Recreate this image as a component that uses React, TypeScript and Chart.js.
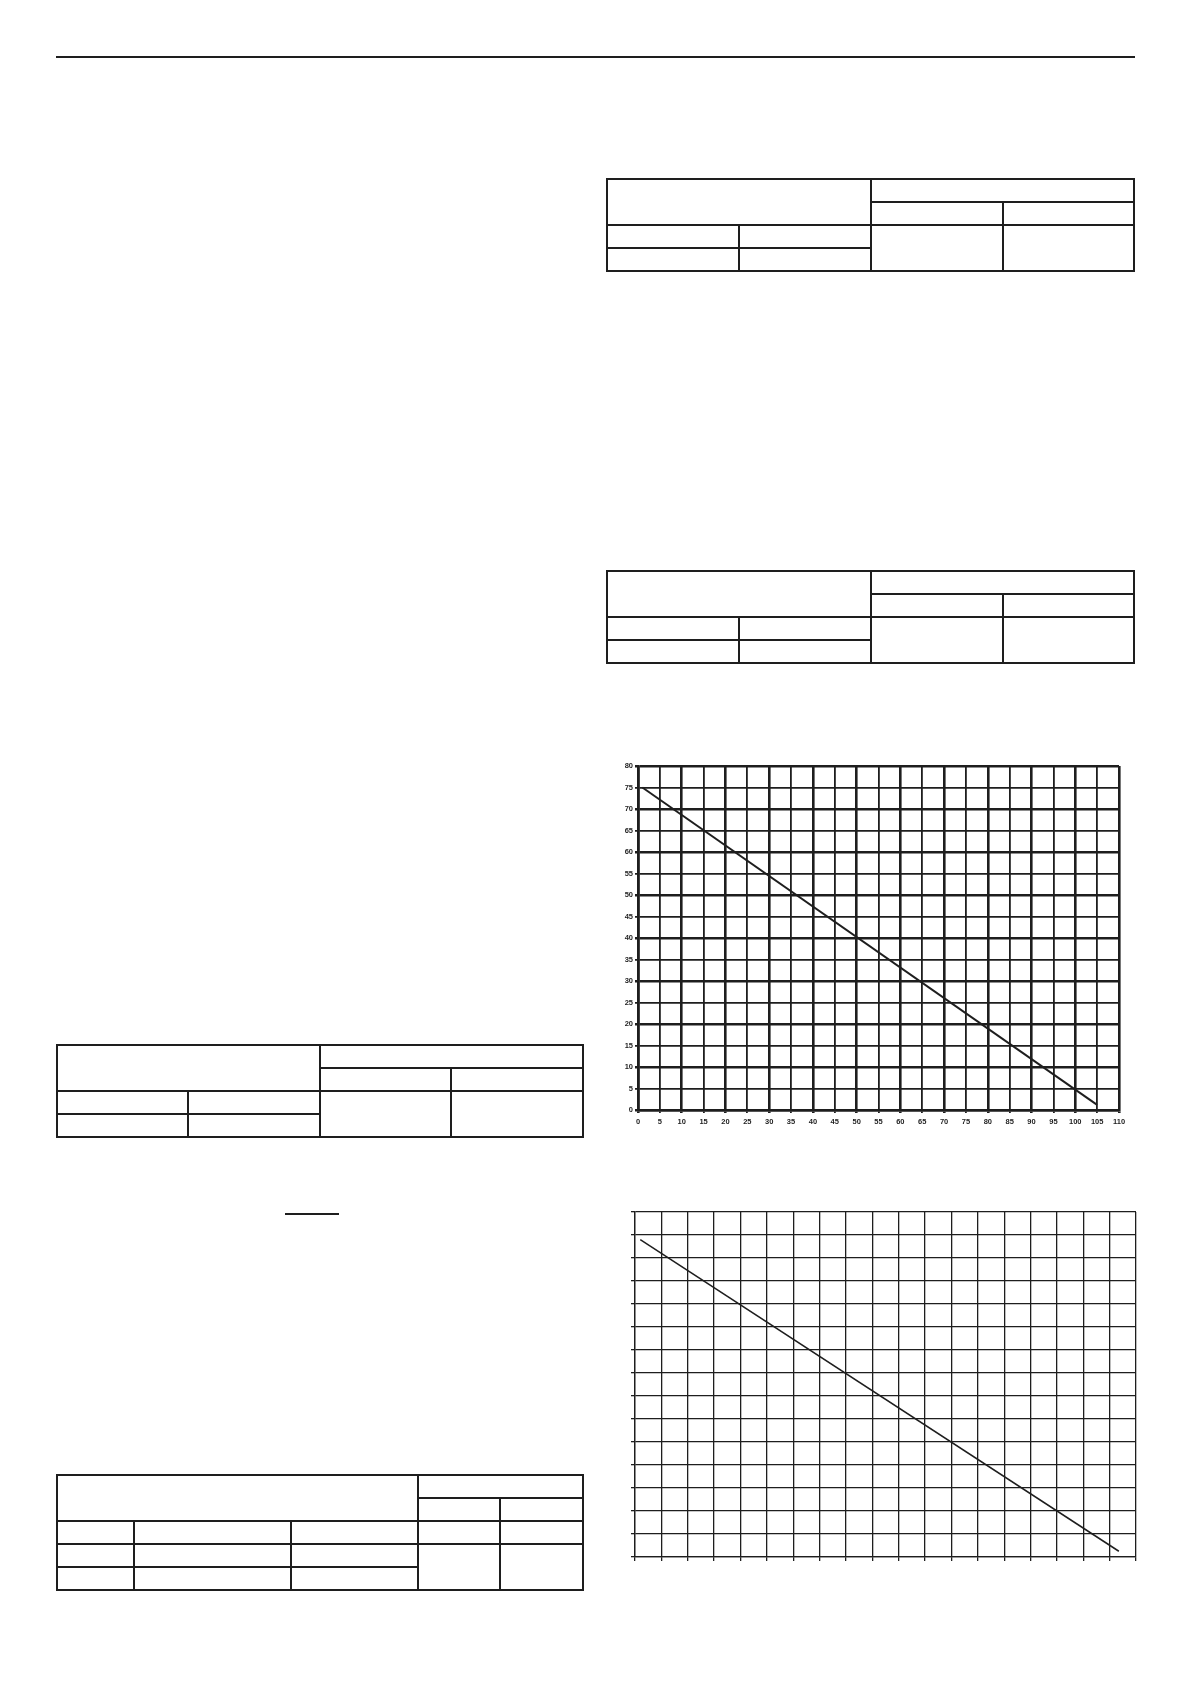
import React, { useEffect, useRef } from "react";
import { Chart, registerables } from "chart.js";

Chart.register(...registerables);

// ---- Chart 1 data (labelled grid) ----
const chart1XMin = 0;
const chart1XMax = 110;
const chart1YMin = 0;
const chart1YMax = 80;
const chart1Step = 5;
const chart1LineX = [1, 105];
const chart1LineY = [75, 1.2];

// ---- Chart 2 data (unlabelled grid) ----
const chart2XMin = 0;
const chart2XMax = 19;
const chart2YMin = 0;
const chart2YMax = 15;
const chart2Step = 1;
const chart2LineX = [0.2, 18.35];
const chart2LineY = [13.8, 0.25];

const INK = "#1e1e1e";

type ChartSpec = {
  left: number;
  top: number;
  width: number;
  height: number;
  xs: number[];
  ys: number[];
  xMin: number;
  xMax: number;
  yMin: number;
  yMax: number;
  step: number;
  labels: boolean;
  yAxisWidth: number;
  xAxisHeight: number;
  padding: { top: number; right: number; bottom: number; left: number };
  majorWidth: number;
  minorWidth: number;
  lineWidth: number;
  tickLength: number;
};

function GridChart(p: ChartSpec) {
  const ref = useRef<HTMLCanvasElement | null>(null);
  useEffect(() => {
    if (!ref.current) return;
    const pts = p.xs.map((x, i) => ({ x, y: p.ys[i] }));
    const gw = (ctx: any) => {
      const v = ctx.tick ? ctx.tick.value : 0;
      return p.labels && Math.round(v) % 10 === 0 ? p.majorWidth : p.minorWidth;
    };
    const font = { family: "'Liberation Sans', Arial, sans-serif", size: 7.5, weight: "bold" as const };
    const chart = new Chart(ref.current, {
      type: "line",
      data: {
        datasets: [
          {
            data: pts,
            borderColor: INK,
            borderWidth: p.lineWidth,
            pointRadius: 0,
            tension: 0,
            fill: false,
          },
        ],
      },
      options: {
        animation: false,
        responsive: false,
        maintainAspectRatio: false,
        layout: { padding: p.padding },
        plugins: { legend: { display: false }, tooltip: { enabled: false } },
        scales: {
          x: {
            type: "linear",
            min: p.xMin,
            max: p.xMax,
            ticks: {
              display: p.labels,
              stepSize: p.step,
              autoSkip: false,
              maxRotation: 0,
              color: INK,
              font,
              padding: 4,
            },
            grid: { color: INK, lineWidth: gw, tickLength: p.tickLength, drawTicks: true },
            border: { color: INK, width: p.labels ? p.majorWidth : p.minorWidth },
            afterFit: (s: any) => {
              s.height = p.xAxisHeight;
            },
          },
          y: {
            type: "linear",
            min: p.yMin,
            max: p.yMax,
            ticks: {
              display: p.labels,
              stepSize: p.step,
              autoSkip: false,
              color: INK,
              font,
              padding: 2,
            },
            grid: { color: INK, lineWidth: gw, tickLength: p.tickLength, drawTicks: true },
            border: { color: INK, width: p.labels ? p.majorWidth : p.minorWidth },
            afterFit: (s: any) => {
              s.width = p.yAxisWidth;
            },
          },
        },
      },
    });
    return () => chart.destroy();
  }, []);
  return (
    <canvas
      ref={ref}
      width={p.width}
      height={p.height}
      style={{ position: "absolute", left: p.left, top: p.top, width: p.width, height: p.height }}
    />
  );
}

// ---- Table line layouts ----
type Seg = [number, number, number];
type TableSpec = { cols: number[]; rows: number[]; h: Seg[]; v: Seg[] };

const tableType1H: Seg[] = [
  [0, 0, 4],
  [1, 2, 4],
  [2, 0, 4],
  [3, 0, 2],
  [4, 0, 4],
];
const tableType1V: Seg[] = [
  [0, 0, 4],
  [1, 2, 4],
  [2, 0, 4],
  [3, 1, 4],
  [4, 0, 4],
];
const tableType2H: Seg[] = [
  [0, 0, 5],
  [1, 3, 5],
  [2, 0, 5],
  [3, 0, 5],
  [4, 0, 3],
  [5, 0, 5],
];
const tableType2V: Seg[] = [
  [0, 0, 5],
  [1, 2, 5],
  [2, 2, 5],
  [3, 0, 5],
  [4, 1, 5],
  [5, 0, 5],
];

const tables: TableSpec[] = [
  { cols: [607, 739, 871, 1003, 1134], rows: [179, 202, 225, 248, 271], h: tableType1H, v: tableType1V },
  { cols: [607, 739, 871, 1003, 1134], rows: [571, 594, 617, 640, 663], h: tableType1H, v: tableType1V },
  { cols: [57, 188, 320, 451, 583], rows: [1045, 1068, 1091, 1114, 1137], h: tableType1H, v: tableType1V },
  { cols: [57, 134, 291, 418, 500, 583], rows: [1475, 1498, 1521, 1544, 1567, 1590], h: tableType2H, v: tableType2V },
];

function Rule({ x1, y1, x2, y2, w }: { x1: number; y1: number; x2: number; y2: number; w: number }) {
  const horiz = y1 === y2;
  return (
    <div
      style={{
        position: "absolute",
        background: INK,
        left: x1 - w / 2,
        top: y1 - w / 2,
        width: horiz ? x2 - x1 + w : w,
        height: horiz ? w : y2 - y1 + w,
      }}
    />
  );
}

function TableLines({ t }: { t: TableSpec }) {
  const w = 1.4;
  return (
    <>
      {t.h.map(([r, c1, c2], i) => (
        <Rule key={"h" + i} x1={t.cols[c1]} y1={t.rows[r]} x2={t.cols[c2]} y2={t.rows[r]} w={w} />
      ))}
      {t.v.map(([c, r1, r2], i) => (
        <Rule key={"v" + i} x1={t.cols[c]} y1={t.rows[r1]} x2={t.cols[c]} y2={t.rows[r2]} w={w} />
      ))}
    </>
  );
}

export default function App() {
  return (
    <div
      style={{
        position: "absolute",
        left: 0,
        top: 0,
        width: 1191,
        height: 1684,
        background: "#ffffff",
        overflow: "hidden",
      }}
    >
      {/* header rule */}
      <Rule x1={57} y1={57} x2={1134} y2={57} w={1.8} />

      {tables.map((t, i) => (
        <TableLines key={i} t={t} />
      ))}

      {/* short underline */}
      <Rule x1={286} y1={1214} x2={338} y2={1214} w={1.5} />

      <GridChart
        left={600}
        top={756}
        width={531}
        height={380}
        xs={chart1LineX}
        ys={chart1LineY}
        xMin={chart1XMin}
        xMax={chart1XMax}
        yMin={chart1YMin}
        yMax={chart1YMax}
        step={chart1Step}
        labels={true}
        yAxisWidth={38}
        xAxisHeight={22}
        padding={{ top: 10, right: 12, bottom: 4, left: 0 }}
        majorWidth={2.6}
        minorWidth={1.8}
        lineWidth={2}
        tickLength={3}
      />

      <GridChart
        left={627}
        top={1208}
        width={513}
        height={357}
        xs={chart2LineX}
        ys={chart2LineY}
        xMin={chart2XMin}
        xMax={chart2XMax}
        yMin={chart2YMin}
        yMax={chart2YMax}
        step={chart2Step}
        labels={false}
        yAxisWidth={8}
        xAxisHeight={8}
        padding={{ top: 4, right: 4, bottom: 0, left: 0 }}
        majorWidth={1.3}
        minorWidth={1.3}
        lineWidth={1.5}
        tickLength={4}
      />
    </div>
  );
}
